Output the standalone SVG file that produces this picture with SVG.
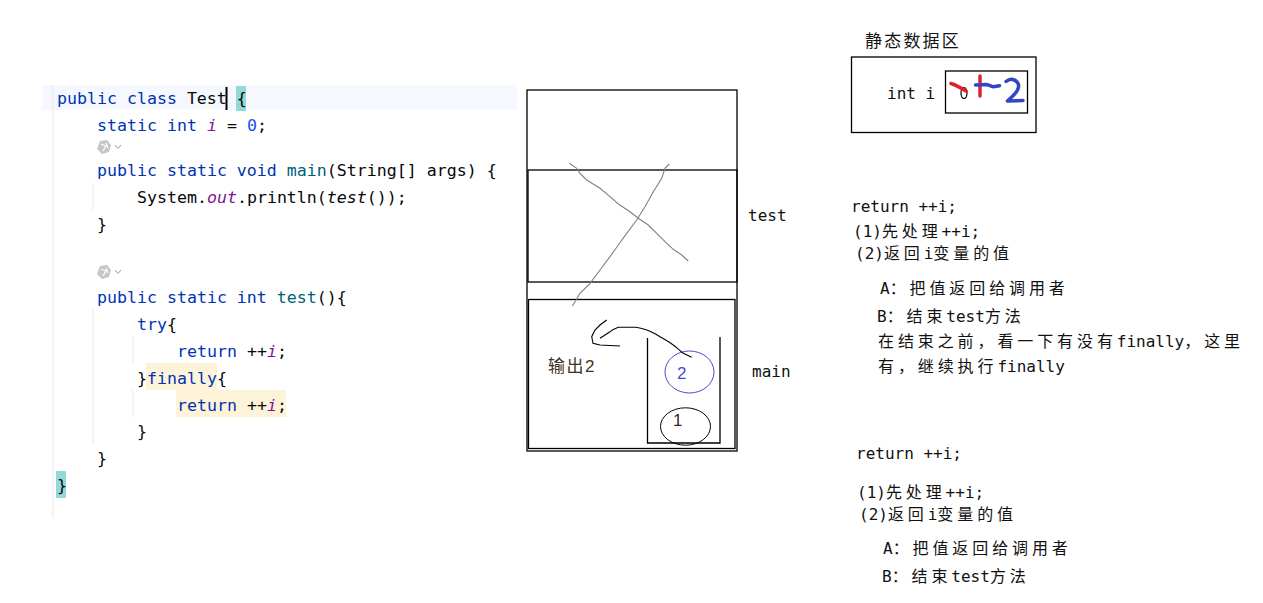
<svg xmlns="http://www.w3.org/2000/svg" width="1263" height="603" viewBox="0 0 1263 603">
<style>
.code{font-family:"DejaVu Sans Mono","Liberation Mono",monospace;font-size:16.6px;fill:#080808}
.kw{fill:#0033b3}
.num{fill:#1750eb}
.fld{fill:#871094;font-style:italic}
.mth{fill:#00627a}
.it{font-style:italic}
.note{font-family:"DejaVu Sans Mono","Noto Sans CJK SC",monospace;font-size:16px;fill:#111}
.cj{letter-spacing:3.9px}
.frame{fill:none;stroke:#000;stroke-width:1.3}
.guide{stroke:#e6e7eb;stroke-width:1}
.x{fill:none;stroke:#808080;stroke-width:1.1}
.ico{fill:#c4c6ca}
.chev{fill:none;stroke:#9a9ca0;stroke-width:1}
</style>
<rect width="1263" height="603" fill="#ffffff"/>

<g id="code">
  <rect x="42" y="85" width="475" height="25" fill="#f5f8fe"/>
  <line class="guide" x1="53" y1="85" x2="53" y2="518"/>
  <line class="guide" x1="93" y1="183" x2="93" y2="210"/>
  <line class="guide" x1="93" y1="309" x2="93" y2="444"/>
  <line class="guide" x1="133" y1="336" x2="133" y2="363"/>
  <line class="guide" x1="133" y1="390" x2="133" y2="417"/>
  <rect x="236" y="86" width="10" height="25" fill="#93d9d9"/>
  <rect x="56" y="471" width="10" height="27" fill="#93d9d9"/>
  <rect x="146" y="363" width="71" height="27" fill="#fcf3d9"/>
  <rect x="176" y="390" width="110" height="27" fill="#fcf3d9"/>
  <text class="code" x="57" y="104" xml:space="preserve"><tspan class="kw">public class</tspan> Test {</text>
  <line x1="226.5" y1="87" x2="226.5" y2="110" stroke="#000" stroke-width="2"/>
  <text class="code" x="97" y="131" xml:space="preserve"><tspan class="kw">static int</tspan> <tspan class="fld">i</tspan> = <tspan class="num">0</tspan>;</text>
  <g id="icon1">
    <path class="ico" d="M100,141 L107,140 L111,145 L109,152 L102,154 L97,149 Z"/>
    <path d="M101,144 L106,146 L103,151 M106,143 L108,148" fill="none" stroke="#fff" stroke-width="1.2"/>
    <polyline class="chev" points="115,145 118,148.5 121,145"/>
  </g>
  <text class="code" x="97" y="176" xml:space="preserve"><tspan class="kw">public static void</tspan> <tspan class="mth">main</tspan>(String[] args) {</text>
  <text class="code" x="137" y="203" xml:space="preserve">System.<tspan class="fld">out</tspan>.println(<tspan class="it">test</tspan>());</text>
  <text class="code" x="97" y="230">}</text>
  <g id="icon2">
    <path class="ico" d="M100,266 L107,265 L111,270 L109,277 L102,279 L97,274 Z"/>
    <path d="M101,269 L106,271 L103,276 M106,268 L108,273" fill="none" stroke="#fff" stroke-width="1.2"/>
    <polyline class="chev" points="115,270 118,273.5 121,270"/>
  </g>
  <text class="code" x="97" y="303" xml:space="preserve"><tspan class="kw">public static int</tspan> <tspan class="mth">test</tspan>(){</text>
  <text class="code" x="137" y="330"><tspan class="kw">try</tspan>{</text>
  <text class="code" x="177" y="357" xml:space="preserve"><tspan class="kw">return</tspan> ++<tspan class="fld">i</tspan>;</text>
  <text class="code" x="137" y="384">}<tspan class="kw">finally</tspan>{</text>
  <text class="code" x="177" y="411" xml:space="preserve"><tspan class="kw">return</tspan> ++<tspan class="fld">i</tspan>;</text>
  <text class="code" x="137" y="437">}</text>
  <text class="code" x="97" y="464">}</text>
  <text class="code" x="57" y="491">}</text>
</g>

<g id="stack">
  <rect class="frame" x="527" y="90" width="210" height="361"/>
  <rect class="frame" x="528" y="170" width="209" height="112"/>
  <rect class="frame" x="528.5" y="299.5" width="206.5" height="149"/>
  <polyline class="frame" points="647.5,338 647.5,443 720,443 720,337"/>
  <polyline class="x" points="569.3,163.3 576.7,168.3 580,173.3 586.7,180 600,188.3 610,196.7 618.3,204 630,211.7 638.3,218.3 648.3,225 656.7,233.3 665,241.7 673.3,249.3 681.7,255 688.3,261"/>
  <polyline class="x" points="669.3,164 665,168.3 661.7,178.3 653.3,191.7 645,206.7 636.7,220 626.7,233.3 618.3,245 610,256.7 600,270 590,283.3 580,293.3 575,301.7 572.3,306"/>
  <text x="748" y="221" class="note">test</text>
  <text x="752" y="377" class="note">main</text>
  <text x="548" y="372" font-family="Liberation Sans,'Noto Sans CJK SC',sans-serif" font-size="17" fill="#3e3226" letter-spacing="1.5">输出2</text>
  <g id="item2">
    <ellipse cx="689.5" cy="372" rx="24.5" ry="21" fill="none" stroke="#4a4ad0" stroke-width="1"/>
    <text x="677" y="379" font-family="Liberation Sans,sans-serif" font-size="17" fill="#4a4ad0">2</text>
  </g>
  <g id="item1">
    <ellipse cx="685.5" cy="426.5" rx="25" ry="18.7" fill="none" stroke="#000" stroke-width="1"/>
    <text x="673" y="426" font-family="Liberation Sans,sans-serif" font-size="17" fill="#3a2a1a">1</text>
  </g>
</g>

<g id="connectors">
  <path d="M691.7,357.3 L683.3,353.3 C679,350 676,347 673.3,345 C668,341 664,339 660,336.7 C654,333 650,331 646.7,330 C642,328.5 639,327.5 635,327.3 L618.3,327.3 C614,329 612,330 610,331.7 L600,338.3" fill="none" stroke="#000" stroke-width="1.1"/>
  <path d="M620,346 L600,345 L593,343.3 L591.7,336.7 L595,330 L600,325 L606.7,320" fill="none" stroke="#000" stroke-width="1.1"/>
</g>

<g id="static-area">
  <text x="865" y="47" font-family="'Noto Sans CJK SC',sans-serif" font-size="17" letter-spacing="2.2" fill="#111">静态数据区</text>
  <rect class="frame" x="851.5" y="57" width="184.5" height="75.5"/>
  <text x="887" y="99" class="note">int i</text>
  <rect class="frame" x="945.5" y="71" width="82" height="42"/>
  <ellipse cx="964" cy="93" rx="3" ry="5.5" fill="none" stroke="#000" stroke-width="1.2"/>
  <path d="M951,83.5 C956,85 961,88 966,91" fill="none" stroke="#e0202a" stroke-width="3.5" stroke-linecap="round"/>
  <path d="M980,76 L980,96" fill="none" stroke="#e0202a" stroke-width="3.5" stroke-linecap="round"/>
  <path d="M975.5,85 L986.5,84.5 C989,84.8 991,86.5 993.3,86.7 L999.5,85.7" fill="none" stroke="#3344c4" stroke-width="3.5" stroke-linecap="round"/>
  <path d="M1006,81.5 C1008.5,79.5 1011,79 1013,79.5 C1018,81 1020,85 1017.5,90 C1015.5,94 1012,97 1008.5,100 L1007.5,101 L1023,100.5" fill="none" stroke="#3344c4" stroke-width="3.5" stroke-linecap="round" stroke-linejoin="round"/>
</g>

<g id="notes1">
  <text class="note" x="851" y="212" xml:space="preserve">return ++i;</text>
  <text class="note" x="853" y="237">(1)<tspan class="cj">先处理</tspan>++i;</text>
  <text class="note" x="855" y="259">(2)<tspan class="cj">返回</tspan>i<tspan class="cj">变量的值</tspan></text>
  <text class="note" x="880" y="294">A<tspan class="cj">：把值返回给调用者</tspan></text>
  <text class="note" x="877" y="322">B<tspan class="cj">：结束</tspan>test<tspan class="cj">方法</tspan></text>
  <text class="note" x="878" y="347"><tspan class="cj">在结束之前，看一下有没有</tspan>finally<tspan class="cj">，这里</tspan></text>
  <text class="note" x="878" y="372"><tspan class="cj">有，继续执行</tspan>finally</text>
</g>

<g id="notes2">
  <text class="note" x="856" y="459" xml:space="preserve">return ++i;</text>
  <text class="note" x="857" y="498">(1)<tspan class="cj">先处理</tspan>++i;</text>
  <text class="note" x="859" y="520">(2)<tspan class="cj">返回</tspan>i<tspan class="cj">变量的值</tspan></text>
  <text class="note" x="883" y="554">A<tspan class="cj">：把值返回给调用者</tspan></text>
  <text class="note" x="882" y="582">B<tspan class="cj">：结束</tspan>test<tspan class="cj">方法</tspan></text>
</g>
</svg>
